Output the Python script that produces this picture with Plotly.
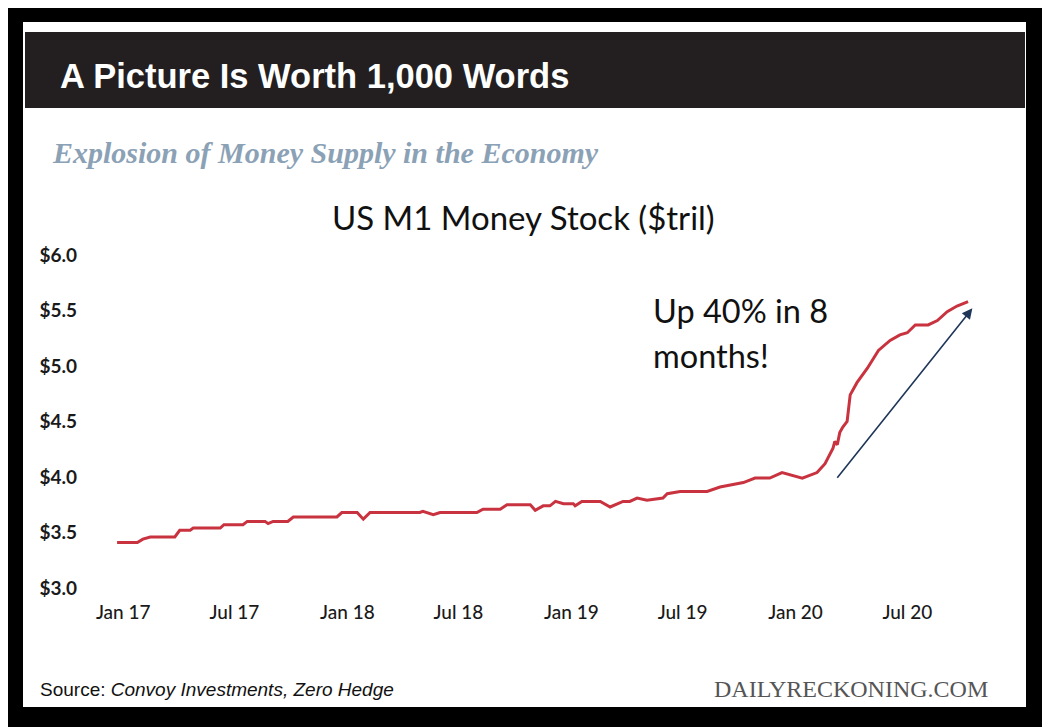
import plotly.graph_objects as go

W, H = 1042, 719   # page shows the figure offset by the 8px body margin
OFF = 8

# ---- data ----
dates = [
    "2016-12-22", "2017-01-24", "2017-02-02", "2017-02-14", "2017-03-26", "2017-04-03",
    "2017-04-20", "2017-04-25", "2017-06-08", "2017-06-14", "2017-07-15", "2017-07-22",
    "2017-08-20", "2017-08-25", "2017-09-02", "2017-09-26", "2017-10-05", "2017-12-15",
    "2017-12-23", "2018-01-17", "2018-01-27", "2018-02-07", "2018-04-29", "2018-05-04",
    "2018-05-21", "2018-06-01", "2018-07-31", "2018-08-10", "2018-09-07", "2018-09-18",
    "2018-10-26", "2018-11-03", "2018-11-16", "2018-11-27", "2018-12-06", "2018-12-19",
    "2019-01-04", "2019-01-07", "2019-01-18", "2019-02-17", "2019-03-05", "2019-03-26",
    "2019-04-06", "2019-04-18", "2019-05-04", "2019-05-30", "2019-06-06", "2019-06-27",
    "2019-08-10", "2019-08-31", "2019-10-08", "2019-10-27", "2019-11-20", "2019-12-10",
    "2020-01-12", "2020-02-05", "2020-02-18", "2020-03-02", "2020-03-05", "2020-03-09",
    "2020-03-13", "2020-03-18", "2020-03-25", "2020-03-30", "2020-04-10", "2020-04-27",
    "2020-05-15", "2020-05-21", "2020-06-03", "2020-06-19", "2020-07-01", "2020-07-14",
    "2020-08-04", "2020-08-19", "2020-09-04", "2020-09-20", "2020-10-08",
]
m1_tril = [
    3.41, 3.41, 3.44, 3.46, 3.46, 3.52,
    3.52, 3.54, 3.54, 3.57, 3.57, 3.60,
    3.60, 3.58, 3.60, 3.60, 3.64, 3.64,
    3.68, 3.68, 3.62, 3.68, 3.68, 3.69,
    3.66, 3.68, 3.68, 3.71, 3.71, 3.75,
    3.75, 3.70, 3.74, 3.74, 3.78, 3.76,
    3.76, 3.74, 3.78, 3.78, 3.73, 3.78,
    3.78, 3.81, 3.79, 3.81, 3.85, 3.87,
    3.87, 3.91, 3.95, 3.99, 3.99, 4.04,
    3.99, 4.04, 4.12, 4.26, 4.32, 4.29,
    4.40, 4.45, 4.50, 4.74, 4.85, 4.98,
    5.14, 5.17, 5.23, 5.28, 5.30, 5.37,
    5.37, 5.41, 5.49, 5.54, 5.58,
]
tick_dates = ["2017-01-01", "2017-07-01", "2018-01-01", "2018-07-01",
              "2019-01-01", "2019-07-01", "2020-01-01", "2020-07-01"]
tick_labels = ["Jan 17", "Jul 17", "Jan 18", "Jul 18", "Jan 19", "Jul 19", "Jan 20", "Jul 20"]
y_ticks = [3.0, 3.5, 4.0, 4.5, 5.0, 5.5, 6.0]
y_labels = ["$3.0", "$3.5", "$4.0", "$4.5", "$5.0", "$5.5", "$6.0"]
arrow_from = ("2020-03-07", 3.98)
arrow_to = ("2020-10-15", 5.52)

title = "A Picture Is Worth 1,000 Words"
subtitle = "Explosion of Money Supply in the Economy"
chart_title = "US M1 Money Stock ($tril)"
note_lines = ["Up 40% in 8", "months!"]
source_text = "Source: <i>Convoy Investments, Zero Hedge</i>"
brand = "DAILYRECKONING.COM"


def px(x):
    return (x - OFF) / W


def py(y):
    return 1 - (y - OFF) / H


SANS = "Lato, Open Sans, sans-serif"
HELV = "Liberation Sans, Arial, sans-serif"
SERIF = "Liberation Serif, Times New Roman, serif"

fig = go.Figure()
fig.add_trace(go.Scatter(
    x=dates, y=m1_tril, mode="lines",
    line=dict(color="#c8333f", width=3),
    hoverinfo="skip", showlegend=False,
))

fig.update_layout(
    width=W, height=H,
    margin=dict(l=0, r=0, t=0, b=0),
    paper_bgcolor="black", plot_bgcolor="white",
    showlegend=False,
    xaxis=dict(
        domain=[px(95), px(1000)],
        type="date", range=["2016-11-16", "2020-11-29"],
        tickvals=tick_dates, ticktext=tick_labels,
        showgrid=False, zeroline=False, showline=False, ticks="",
        tickfont=dict(family=SANS, size=19, color="#1a1a1a", weight=500),
        ticklabelstandoff=11, automargin=False, fixedrange=True,
    ),
    yaxis=dict(
        domain=[py(588), py(255)],
        range=[3.0, 6.0],
        tickvals=y_ticks, ticktext=y_labels,
        showgrid=False, zeroline=False, showline=False, ticks="",
        tickfont=dict(family=SANS, size=19, color="#1a1a1a", weight=700),
        ticklabelstandoff=17, automargin=False, fixedrange=True,
    ),
)

shapes = [
    dict(type="rect", xref="paper", yref="paper", x0=px(23), x1=px(1026), y0=py(707), y1=py(22),
         fillcolor="white", line=dict(width=0), layer="below"),
    dict(type="rect", xref="paper", yref="paper", x0=px(25), x1=px(1025), y0=py(108), y1=py(32),
         fillcolor="#231f20", line=dict(width=0), layer="below"),
]
fig.update_layout(shapes=shapes)


def label(text, x, y, anchor, font):
    return dict(text=text, x=px(x), y=py(y), xref="paper", yref="paper",
                xanchor=anchor, yanchor="middle", showarrow=False, align="left", font=font)


annotations = [
    label(title, 58, 76, "left", dict(family=HELV, size=34.5, color="white", weight="bold")),
    label("<b><i>" + subtitle + "</i></b>", 50, 152, "left", dict(family=SERIF, size=30, color="#8ba1b5")),
    label(chart_title, 523, 217, "center", dict(family=SANS, size=33, color="#111111")),
    label(note_lines[0], 651, 311, "left", dict(family=SANS, size=32.5, color="#111111")),
    label(note_lines[1], 651, 355, "left", dict(family=SANS, size=32.5, color="#111111")),
    label(source_text, 38, 689, "left", dict(family=HELV, size=19, color="#111111")),
    label(brand, 990, 689, "right", dict(family=SERIF, size=24, color="#555555")),
    dict(text="", x=arrow_to[0], y=arrow_to[1], ax=arrow_from[0], ay=arrow_from[1],
         xref="x", yref="y", axref="x", ayref="y", showarrow=True,
         arrowhead=2, arrowsize=1.3, arrowwidth=1.6, arrowcolor="#1d3659"),
]
fig.update_layout(annotations=annotations)

fig.write_html("out.html", config={"displayModeBar": False})
